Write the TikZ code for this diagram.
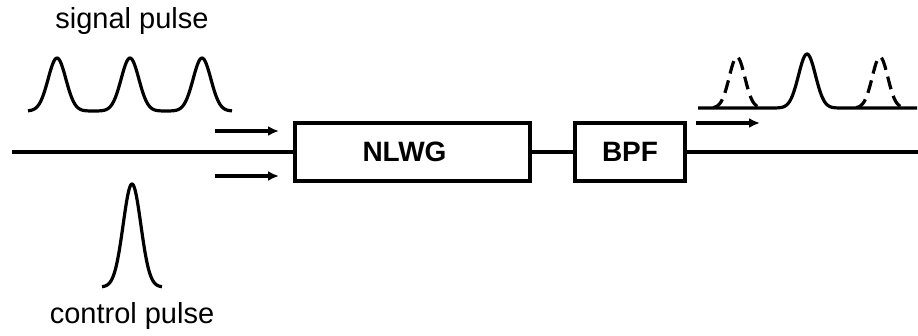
\documentclass[tikz,border=0pt]{standalone}
\usepackage{fontspec}
\setmainfont{Liberation Sans}
\usetikzlibrary{arrows.meta}
\begin{document}
\begin{tikzpicture}[x=1pt,y=-1pt,
  wire/.style={line width=3.2pt},
  pulse/.style={line width=3.2pt, line join=round},
  dpulse/.style={line width=3.2pt, dash pattern=on 13pt off 7pt},
  box/.style={draw, line width=3.2pt, minimum height=58pt, inner sep=0pt,
    font=\fontsize{28}{30}\selectfont\bfseries},
  lbl/.style={font=\fontsize{29}{34}\selectfont, anchor=base, inner sep=0pt},
  arr/.style={line width=3.2pt, -{Latex[length=11pt,width=10pt]}}]
\useasboundingbox (0,0) rectangle (918,335);
% boxes
\node[box, minimum width=235pt] (nlwg) at (412.5,152) {NLWG\hspace*{16pt}};
\node[box, minimum width=110pt] (bpf) at (630,152) {BPF};
% wires
\coordinate (in) at (12,152);
\coordinate (out) at (918,152);
\draw[wire] (in) -- (nlwg.west);
\draw[wire] (nlwg.east) -- (bpf.west);
\draw[wire] (bpf.east) -- (out);
% arrows
\coordinate (a1s) at (215,131); \coordinate (a1e) at (279,131);
\coordinate (a2s) at (215,176); \coordinate (a2e) at (279,176);
\coordinate (a3s) at (696,123); \coordinate (a3e) at (760,123);
\draw[arr] (a1s) -- (a1e);
\draw[arr] (a2s) -- (a2e);
\draw[arr] (a3s) -- (a3e);
% signal pulses
\draw[pulse] plot[domain=28:93.5, samples=60] (\x, {111 - 53*exp(-((\x-57)/12.5)*((\x-57)/12.5))})
  -- plot[domain=93.5:166, samples=70] (\x, {111 - 53*exp(-((\x-130)/12.5)*((\x-130)/12.5))})
  -- plot[domain=166:232, samples=60] (\x, {111 - 53*exp(-((\x-202)/12.5)*((\x-202)/12.5))});
% control pulse
\draw[pulse] plot[domain=102:162, samples=80] (\x, {287 - 103*exp(-((\x-132)/12.5)*((\x-132)/12.5))});
% output pulses
\draw[pulse] (698,108) -- (765,108)
  -- plot[domain=765:849, samples=80] (\x, {108 - 54*exp(-((\x-807)/12)*((\x-807)/12))})
  -- (917,108);
\draw[dpulse] plot[domain=713:761, samples=60] (\x, {108 - 51*exp(-((\x-737)/11)*((\x-737)/11))});
\draw[dpulse] plot[domain=856:904, samples=60] (\x, {108 - 51*exp(-((\x-880)/11)*((\x-880)/11))});
% labels
\node[lbl] (sig) at (132,28) {signal pulse};
\node[lbl] (ctl) at (132,323) {control pulse};
\end{tikzpicture}
\end{document}
